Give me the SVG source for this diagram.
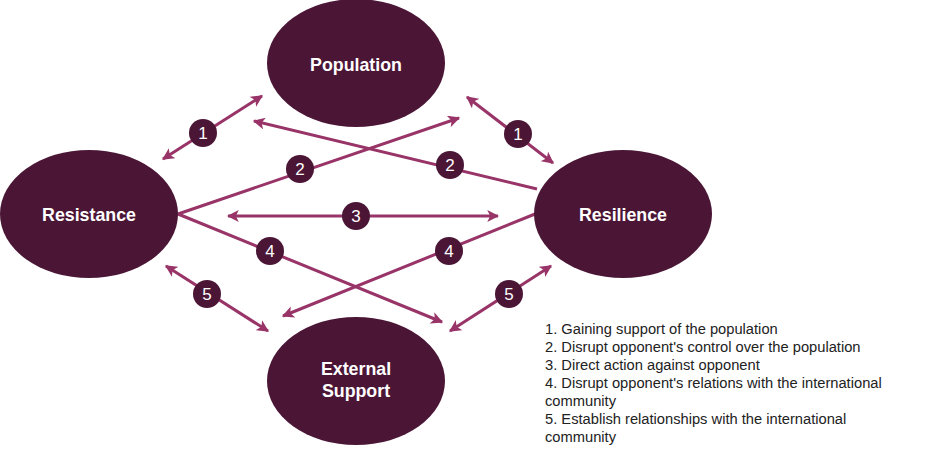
<svg xmlns="http://www.w3.org/2000/svg" width="926" height="460" viewBox="0 0 926 460">
<style>
.node{fill:#4b1636}
.nl{fill:#fff;font-family:"Liberation Sans",Arial,sans-serif;font-weight:bold;font-size:17.8px;text-anchor:middle}
.c{stroke:#983467;stroke-width:3;fill:none}
.bd{fill:#4b1636}
.bt{fill:#fff;font-family:"Liberation Sans",Arial,sans-serif;font-size:17px;text-anchor:middle}
.lg{fill:#222;font-family:"Liberation Sans",Arial,sans-serif;font-size:14.7px}
</style>
<defs>
<marker id="ah" viewBox="0 0 10 10" refX="9" refY="5" markerWidth="4" markerHeight="4" orient="auto-start-reverse" markerUnits="strokeWidth">
<path d="M0,0 L10,5 L0,10 L2.5,5 z" fill="#983467"/>
</marker>
</defs>
<rect width="926" height="460" fill="#fff"/>
<g id="connectors">
<line class="c" x1="163" y1="159" x2="262" y2="96" marker-start="url(#ah)" marker-end="url(#ah)"/>
<line class="c" x1="467" y1="97" x2="553" y2="163" marker-start="url(#ah)" marker-end="url(#ah)"/>
<line class="c" x1="178" y1="214" x2="459" y2="118" marker-end="url(#ah)"/>
<line class="c" x1="537" y1="189" x2="254" y2="121" marker-end="url(#ah)"/>
<line class="c" x1="228" y1="216" x2="498" y2="216" marker-start="url(#ah)" marker-end="url(#ah)"/>
<line class="c" x1="178" y1="214" x2="442" y2="322" marker-end="url(#ah)"/>
<line class="c" x1="535" y1="214" x2="283" y2="316" marker-end="url(#ah)"/>
<line class="c" x1="166" y1="266" x2="268" y2="331" marker-start="url(#ah)" marker-end="url(#ah)"/>
<line class="c" x1="450" y1="331" x2="551" y2="266" marker-start="url(#ah)" marker-end="url(#ah)"/>
</g>
<g id="badges">
<g id="b1a"><circle class="bd" cx="203" cy="133" r="14"/><text class="bt" x="203" y="139">1</text></g>
<g id="b1b"><circle class="bd" cx="518" cy="134" r="14"/><text class="bt" x="518" y="140">1</text></g>
<g id="b2a"><circle class="bd" cx="300" cy="169" r="14"/><text class="bt" x="300" y="175">2</text></g>
<g id="b2b"><circle class="bd" cx="450" cy="165" r="14"/><text class="bt" x="450" y="171">2</text></g>
<g id="b3"><circle class="bd" cx="356" cy="216" r="14"/><text class="bt" x="356" y="222">3</text></g>
<g id="b4a"><circle class="bd" cx="270" cy="251" r="14"/><text class="bt" x="270" y="257">4</text></g>
<g id="b4b"><circle class="bd" cx="449" cy="251" r="14"/><text class="bt" x="449" y="257">4</text></g>
<g id="b5a"><circle class="bd" cx="207" cy="294" r="14"/><text class="bt" x="207" y="300">5</text></g>
<g id="b5b"><circle class="bd" cx="509" cy="294" r="14"/><text class="bt" x="509" y="300">5</text></g>
</g>
<g id="population"><ellipse class="node" cx="356" cy="63" rx="89" ry="64"/><text class="nl" x="356" y="71">Population</text></g>
<g id="resistance"><ellipse class="node" cx="89" cy="214" rx="89" ry="64"/><text class="nl" x="89" y="221">Resistance</text></g>
<g id="resilience"><ellipse class="node" cx="623" cy="214" rx="89" ry="64"/><text class="nl" x="623" y="221">Resilience</text></g>
<g id="external"><ellipse class="node" cx="356" cy="381" rx="89" ry="64"/><text class="nl" x="356" y="375">External</text><text class="nl" x="356" y="397">Support</text></g>
<g id="legend">
<text class="lg" x="545" y="334">1. Gaining support of the population</text>
<text class="lg" x="545" y="352">2. Disrupt opponent's control over the population</text>
<text class="lg" x="545" y="370">3. Direct action against opponent</text>
<text class="lg" x="545" y="388">4. Disrupt opponent's relations with the international</text>
<text class="lg" x="545" y="406">community</text>
<text class="lg" x="545" y="424">5. Establish relationships with the international</text>
<text class="lg" x="545" y="442">community</text>
</g>
</svg>
